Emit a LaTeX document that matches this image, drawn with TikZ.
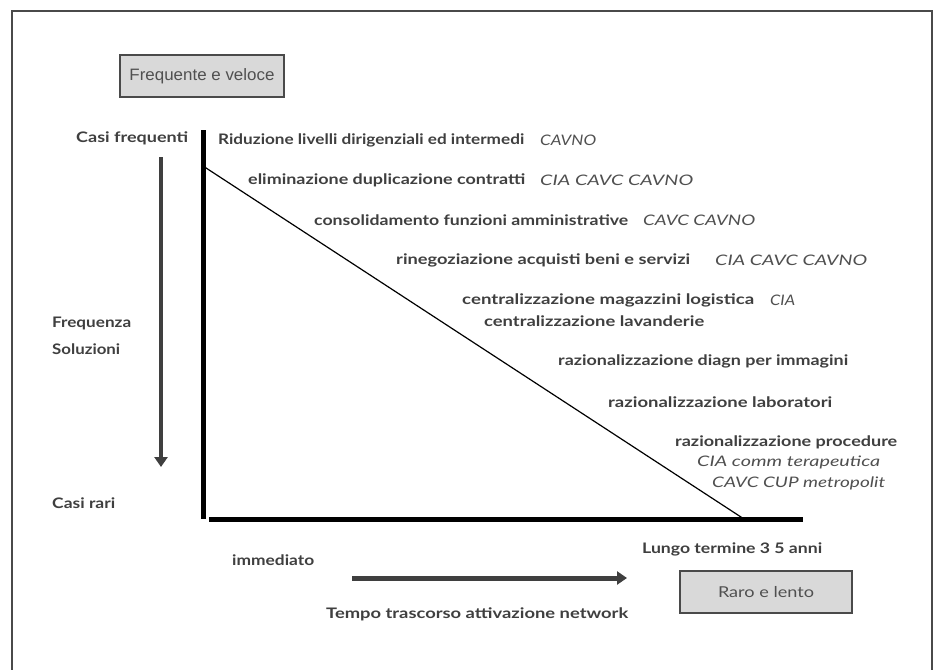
\documentclass[tikz,border=0pt]{standalone}
\usepackage{fontspec}
\setmainfont{Lato}
\newfontfamily\arialf{Liberation Sans}
\usetikzlibrary{arrows.meta}
\definecolor{txt}{HTML}{3F3F3F}
\definecolor{labc}{HTML}{505050}
\definecolor{boxfill}{HTML}{D9D9D9}
\definecolor{frm}{HTML}{4A4A4A}
\newcommand\fitw[2]{\resizebox{#1pt}{\height}{#2}}
\tikzset{
  maintxt/.style={anchor=west,inner sep=0pt,font=\fontsize{14.5}{16}\selectfont\bfseries,text=txt},
  labtxt/.style={anchor=west,inner sep=0pt,font=\fontsize{14.5}{16}\selectfont\itshape,text=labc},
  graybox/.style={draw=frm,line width=1.3pt,fill=boxfill,inner sep=0pt,text=labc},
  axis/.style={line width=5pt,black},
  grayarrow/.style={draw=txt,line width=4.5pt,-{Triangle[width=13pt,length=10pt]}},
}
\begin{document}
\begin{tikzpicture}[x=1pt,y=-1pt]
\useasboundingbox (0,0) rectangle (936,669);
\clip (0,0) rectangle (936,669);
\fill[white] (0,0) rectangle (936,669);
% frame
\draw[frm,line width=1.5pt] (12,700) -- (12,11) -- (932,11) -- (932,700);
% boxes
\node[graybox,minimum width=164pt,minimum height=42pt,font=\arialf\fontsize{16.5}{18}\selectfont] (fv) at (202,76) {\fitw{145}{Frequente e veloce}};
\node[graybox,minimum width=172pt,minimum height=42pt,font=\fontsize{15}{17}\selectfont] (rl) at (766,592) {\fitw{96}{Raro e lento}};
% axes
\coordinate (vtop) at (203,130);
\coordinate (vbot) at (203,519);
\coordinate (hl) at (209,519);
\coordinate (hr) at (803,519);
\coordinate (dtop) at (203,166);
\coordinate (dbot) at (744,519);
\draw[axis] (vtop) -- (vbot);
\draw[axis] (hl) -- (hr);
\draw[black,line width=1.2pt] (dtop) -- (dbot);
% arrows
\coordinate (fa) at (161,157);
\coordinate (fb) at (161,467);
\draw[grayarrow] (fa) -- (fb);
\coordinate (ta) at (352,578);
\coordinate (tb) at (627,578);
\draw[grayarrow,line width=5pt] (ta) -- (tb);
% left labels
\node[maintxt] (cf) at (76,138) {\fitw{112}{Casi frequenti}};
\node[maintxt] (fq) at (52,323) {\fitw{79}{Frequenza}};
\node[maintxt] (sl) at (52,349) {\fitw{68}{Soluzioni}};
\node[maintxt] (cr) at (52,503) {\fitw{63}{Casi rari}};
% list
\node[maintxt] (l1) at (218,140) {\fitw{306}{Riduzione livelli dirigenziali ed intermedi}};
\node[labtxt] (l1b) at (540,140) {\fitw{56}{CAVNO}};
\node[maintxt] (l2) at (248,180) {\fitw{277}{eliminazione duplicazione contratti}};
\node[labtxt] (l2b) at (540,180) {\fitw{153}{CIA CAVC CAVNO}};
\node[maintxt] (l3) at (314,220) {\fitw{314}{consolidamento funzioni amministrative}};
\node[labtxt] (l3b) at (643,220) {\fitw{112}{CAVC CAVNO}};
\node[maintxt] (l4) at (396,260) {\fitw{294}{rinegoziazione acquisti beni e servizi}};
\node[labtxt] (l4b) at (715,260) {\fitw{152}{CIA CAVC CAVNO}};
\node[maintxt] (l5) at (462,300) {\fitw{292}{centralizzazione magazzini logistica}};
\node[labtxt] (l5b) at (770,300) {\fitw{25}{CIA}};
\node[maintxt] (l6) at (484,321) {\fitw{220}{centralizzazione lavanderie}};
\node[maintxt] (l7) at (558,361) {\fitw{290}{razionalizzazione diagn per immagini}};
\node[maintxt] (l8) at (608,402) {\fitw{224}{razionalizzazione laboratori}};
\node[maintxt] (l9) at (675,442) {\fitw{222}{razionalizzazione procedure}};
\node[labtxt] (l10) at (697,462) {\fitw{183}{CIA comm terapeutica}};
\node[labtxt] (l11) at (712,483) {\fitw{173}{CAVC CUP metropolit}};
% bottom labels
\node[maintxt] (im) at (232,560) {\fitw{82}{immediato}};
\node[maintxt] (lt) at (642,549) {\fitw{180}{Lungo termine 3 5 anni}};
\node[maintxt] (tt) at (326,614) {\fitw{302}{Tempo trascorso attivazione network}};
\end{tikzpicture}
\end{document}
